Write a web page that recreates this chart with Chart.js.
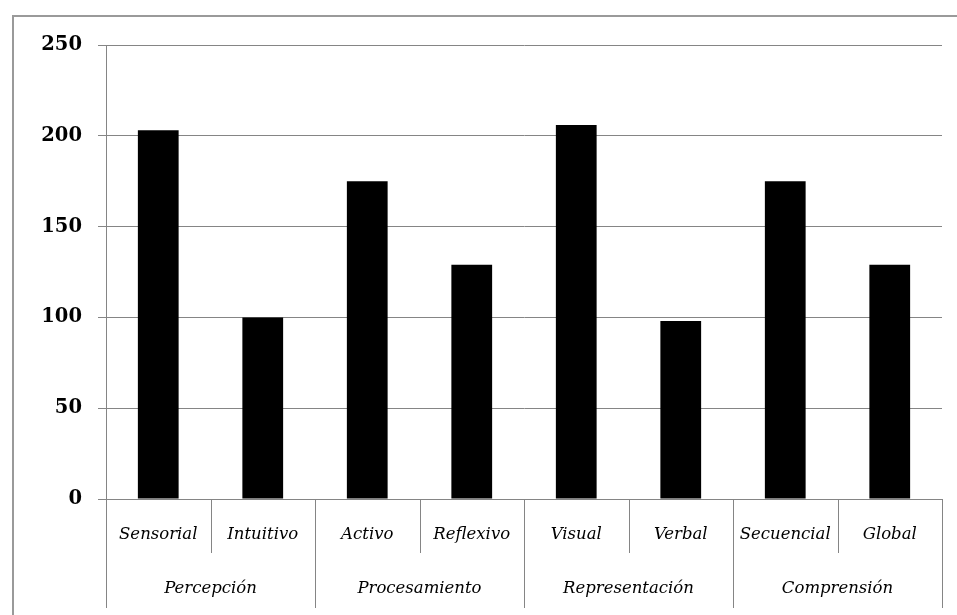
<!DOCTYPE html>
<html>
<head>
<meta charset="utf-8">
<script src="https://cdn.jsdelivr.net/npm/chart.js@4.4.1/dist/chart.umd.min.js"></script>
<style>
  html, body { margin: 0; padding: 0; background: #fff; }
  #wrap { position: relative; width: 957px; height: 615px; }
  #frame { position: absolute; left: 12px; top: 15px; width: 1000px; height: 700px; border-left: 2px solid #9a9a9a; border-top: 2px solid #9a9a9a; }
  canvas { position: absolute; left: 0; top: 0; }
</style>
</head>
<body>
<div id="wrap">
  <div id="frame"></div>
  <canvas id="c" width="957" height="615"></canvas>
</div>
<script>
const categories = ['Sensorial', 'Intuitivo', 'Activo', 'Reflexivo', 'Visual', 'Verbal', 'Secuencial', 'Global'];
const groups = ['Percepción', 'Procesamiento', 'Representación', 'Comprensión'];
const values = [203, 100, 175, 129, 206, 98, 175, 129];
const yTicks = [0, 50, 100, 150, 200, 250];

const lineColor = '#858585';

const separators = {
  id: 'separators',
  afterDraw(chart) {
    const ctx = chart.ctx;
    const x = chart.scales.x;
    const area = chart.chartArea;
    const step = (area.right - area.left) / categories.length;
    ctx.save();
    ctx.strokeStyle = lineColor;
    ctx.lineWidth = 1;
    for (let i = 0; i <= categories.length; i++) {
      const px = Math.round(x.getPixelForValue(i) - step / 2) + 0.5;
      const isGroup = i % 2 === 0;
      ctx.beginPath();
      ctx.moveTo(px, area.bottom);
      ctx.lineTo(px, area.bottom + (isGroup ? 109 : 54));
      ctx.stroke();
    }
    ctx.fillStyle = '#000';
    ctx.font = 'italic 16.5px "DejaVu Serif"';
    ctx.textAlign = 'center';
    ctx.textBaseline = 'middle';
    groups.forEach((g, gi) => {
      const cx = (x.getPixelForValue(gi * 2) + x.getPixelForValue(gi * 2 + 1)) / 2;
      ctx.fillText(g, cx, area.bottom + 90);
    });
    ctx.restore();
  }
};

new Chart(document.getElementById('c'), {
  type: 'bar',
  data: {
    labels: categories,
    datasets: [{
      data: values,
      backgroundColor: '#000',
      borderWidth: 0,
      categoryPercentage: 1,
      barPercentage: 0.39
    }]
  },
  options: {
    responsive: false,
    animation: false,
    layout: { padding: { left: 0, top: 45, right: 15, bottom: 0 } },
    plugins: { legend: { display: false }, tooltip: { enabled: false } },
    scales: {
      y: {
        min: 0, max: 250,
        afterFit(s) { s.width = 106; },
        afterBuildTicks(s) { s.ticks = yTicks.map(v => ({ value: v })); },
        ticks: { color: '#000', font: { family: 'DejaVu Serif', weight: 'bold', size: 19.5 }, padding: 16 },
        grid: { color: lineColor, lineWidth: 1, tickLength: 8, drawTicks: true },
        border: { color: lineColor, width: 1 }
      },
      x: {
        afterFit(s) { s.height = 116; },
        ticks: { color: '#000', font: { family: 'DejaVu Serif', style: 'italic', size: 16.5 }, padding: 26, maxRotation: 0, autoSkip: false },
        grid: { display: false, drawTicks: false },
        border: { display: false }
      }
    }
  },
  plugins: [separators]
});
</script>
</body>
</html>
